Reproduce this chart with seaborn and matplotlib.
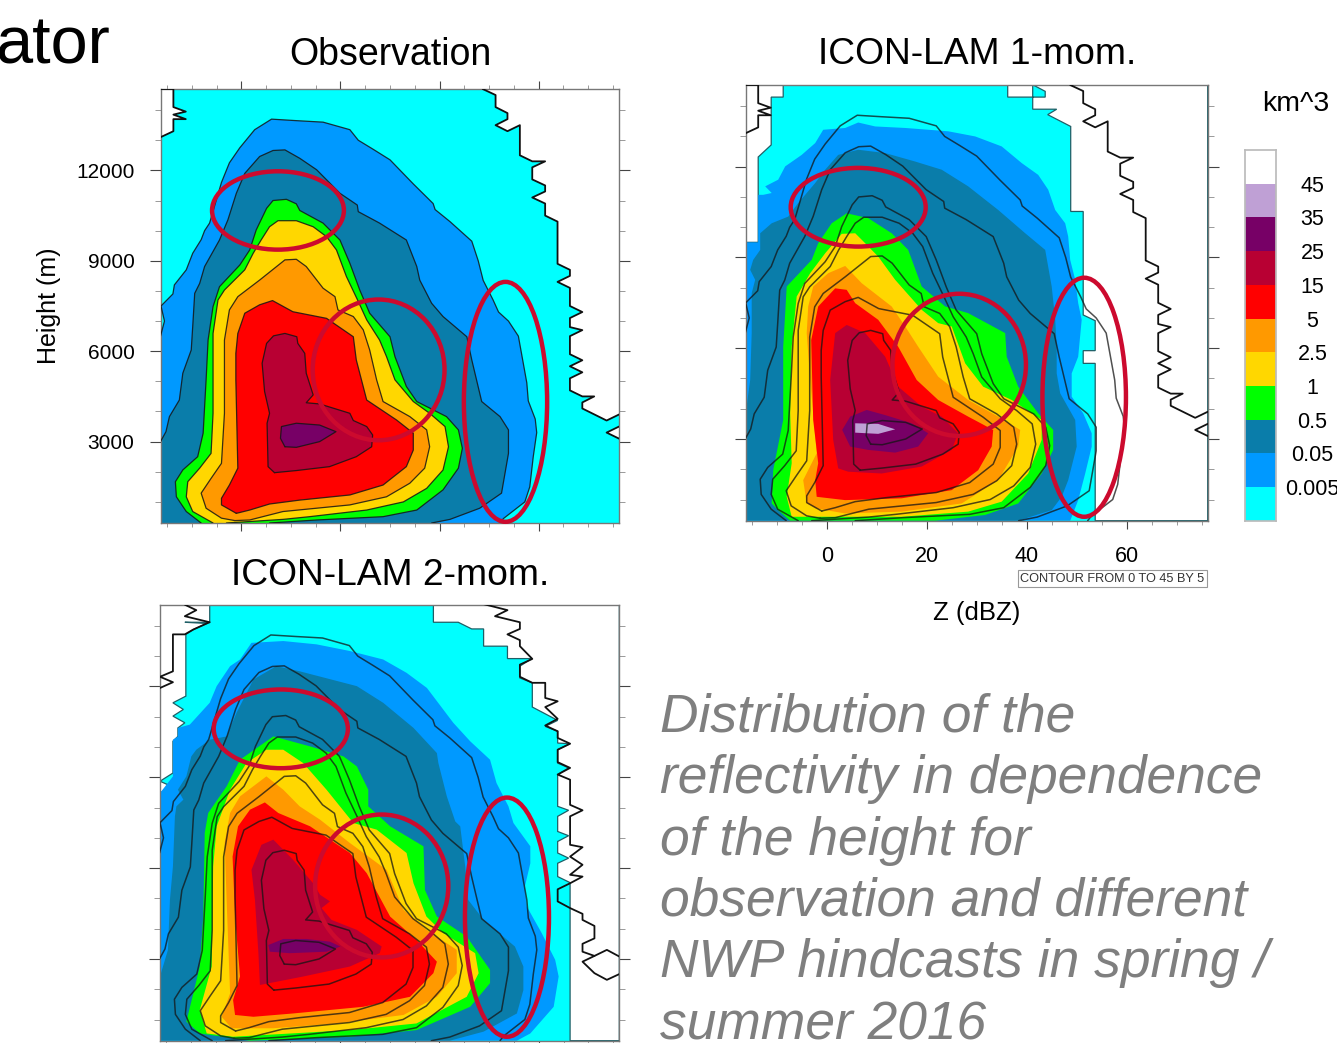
import numpy as np
import seaborn as sns
import matplotlib.pyplot as plt
from matplotlib.colors import ListedColormap
from matplotlib.patches import Ellipse
from matplotlib.ticker import MultipleLocator

W, H = 1337, 1043

cyan = '#00FFFF'
blue = '#0099FF'
dark = '#0A7DAA'
green = '#00FF00'
gold = '#FFD700'
orange = '#FF9900'
red = '#FF0000'
crimson = '#B80033'
purple = '#770066'
lilac = '#BFA0D5'
ring = '#CC0A2E'

bar_colors = ['#FFFFFF', lilac, purple, crimson, red, orange, gold, green, dark, blue, cyan]
bar_labels = ['45', '35', '25', '15', '5', '2.5', '1', '0.5', '0.05', '0.005']

text_lines = ['Distribution of the', 'reflectivity in dependence', 'of the height for',
              'observation and different', 'NWP hindcasts in spring /', 'summer 2016']

# observation contours, Z in dBZ, height in km
obs_blue_z = [-16.3,-15.5,-16.2,-13.8,-13.5,-11.1,-9.8,-8.1,-7.4,-6.4,-4.0,-2.4,-0.3,2.7,6.1,11.1,16.5,21.9,23.6,26.6,30.0,34.7,38.7,39.1,42.1,46.5,47.8,48.8,50.8,51.9,53.9,55.9,57.6,57.9,59.3,59.6,58.9,58.2,57.2,52.9,52.2,-16.3]
obs_blue_h = [6.5,7.0,7.5,7.9,8.2,8.7,9.25,9.7,10.0,10.25,11.6,12.25,12.75,13.35,13.7,13.65,13.6,13.35,13.0,12.7,12.35,11.55,10.9,10.7,10.3,9.65,9.0,8.35,7.7,7.3,7.0,6.5,4.95,4.35,3.75,3.3,2.5,1.5,1.0,0.45,0.3,0.3]
obs_dark_z = [-16.3,-15.2,-14.5,-12.5,-11.8,-10.1,-9.8,-9.4,-8.4,-7.4,-4.4,-2.7,-1,0.7,3.7,6.4,8.8,11.8,15.2,19.9,23.4,23.6,27.9,33.3,35.4,36,38.4,40.7,45.5,46.5,48.5,52.2,53.9,53.9,52.5,48.1,42.1,38.4,-16.3]
obs_dark_h = [3,3.33,3.83,4.38,5.27,6.04,6.82,7.92,8.25,8.81,9.69,10.36,11.24,11.9,12.46,12.66,12.68,12.4,12.02,11.24,10.85,10.63,10.25,9.69,8.81,8.36,7.59,7.15,6.48,5.71,4.33,3.83,3.39,2.61,1.29,0.79,0.42,0.3,0.3]
obs_green_z = [-8.1,-11.1,-13.1,-13.3,-11.8,-8.8,-7.7,-7.1,-6.7,-5.7,-4.4,-0.3,1.7,3,5.1,6.4,9.1,11.1,11.8,16.5,19.9,21.9,23.9,25.9,30,31,33.3,35.4,41.4,43.8,44.6,43.8,40.7,35.4,28.6,15.2,5.7]
obs_green_h = [0.3,0.68,1.17,1.67,2.06,2.5,3.28,5.05,6.37,7.48,8.14,8.86,9.36,10.02,10.74,11,11.04,10.89,10.67,10.25,9.69,8.92,8.03,7.26,6.48,5.82,4.83,4.33,3.83,3.39,2.78,2.12,1.4,0.73,0.51,0.4,0.3]
obs_gold_z = [-5.7,-9.8,-11.1,-10.8,-8.4,-6.1,-5.7,-5.7,-5.7,-4.7,-3.4,0.7,2.4,4,5.7,7.4,11.1,14.5,17.2,19.2,21.2,23.6,25.3,27.9,29.3,31,34.7,38,41.1,41.8,40.7,37.4,32.7,25.3,13.8,8.4,-3]
obs_gold_h = [0.3,0.68,1.17,1.67,2.12,2.61,3.94,5.27,6.59,7.7,8.03,8.7,9.25,9.69,10.13,10.33,10.33,10.13,9.8,9.36,8.48,7.65,7.04,6.37,5.82,5.05,4.33,3.94,3.5,2.83,2.06,1.45,1,0.73,0.51,0.42,0.3]
obs_orange_z = [-1.3,-4,-7.1,-8.1,-6.1,-4,-3.4,-3.4,-2.4,-0.7,3.7,8.8,11.1,13.1,16.5,18.9,19.5,22.6,24.6,25.9,27.3,28.6,34,37.4,38,37,34,29.3,21.9,8.4,1.7]
obs_orange_h = [0.38,0.46,0.79,1.29,1.78,2.28,3.94,6.37,7.37,7.81,8.36,9.03,9.05,8.81,8.09,7.81,7.37,7.15,6.71,6.04,5.05,4.33,3.83,3.39,2.83,2.12,1.62,1.17,0.9,0.68,0.4]
obs_red_z = [-1,-4,-4,-2.4,-0.7,-1.1,-1.1,-0.7,0.7,3.7,6.3,10.4,17.2,22.6,23.2,25.3,31.3,34.7,34.7,33.3,28.6,21.9,11.8,5.7,1.7]
obs_red_h = [0.62,0.9,1.12,1.56,2.12,5.05,5.93,6.59,7.26,7.54,7.68,7.31,7.09,6.48,5.71,4.38,3.72,3.28,2.72,2.17,1.56,1.23,1.06,0.93,0.73]
obs_crimson_z = [6.7,5.4,5.2,5.7,4.7,4.2,5.1,6.5,8.8,11.2,11.4,12.8,13.1,14.5,13.1,15.8,21.9,22.6,25.3,26.5,26.3,23.2,17.8,11.1]
obs_crimson_h = [1.97,2.17,3.61,3.94,4.66,5.6,6.26,6.51,6.59,6.48,6.26,5.93,5.27,4.55,4.29,4.25,3.94,3.7,3.5,3.22,2.83,2.5,2.17,2.04]
obs_purple_z = [8.8,7.9,8.1,11.1,15.8,19.1,15.8,11.1]
obs_purple_h = [2.83,3.11,3.5,3.61,3.55,3.33,3,2.81]

obs_white_left_z = [-16.3,-13.7,-13.7,-11.2,-13.7,-11.2,-13.7,-13.7,-16.3]
obs_white_left_h = [14.7,14.7,14.1,13.95,13.85,13.7,13.7,13.3,13.1]
obs_white_right_z = [48.7,51.3,51.3,53.7,53.7,51.3,53.7,56.2,56.2,58.7,61.3,58.7,58.7,61.3,61.3,58.7,61.3,61.3,63.8,63.8,66.3,66.3,63.8,66.3,66.3,68.8,66.3,66.3,68.8,66.3,66.3,68.8,66.3,68.8,66.3,66.3,68.8,71.2,68.8,68.8,73.7,76.2]
obs_white_right_h = [14.7,14.5,14.1,13.9,13.7,13.5,13.3,13.5,12.5,12.3,12.3,12.1,11.7,11.5,11.3,11.1,10.9,10.5,10.3,8.9,8.7,8.5,8.3,8.1,7.5,7.3,7.1,6.8,6.7,6.5,5.9,5.7,5.5,5.3,5.1,4.7,4.5,4.5,4.3,4.1,3.7,3.9]
obs_notch_z = [76.2,73.7,76.2]
obs_notch_h = [3.5,3.3,3.1]

# ICON-LAM 1-moment
one_blue_z = [-16.2,-13.7,-13.7,-12.7,-11,-12.3,-9.7,-8.3,-5,-2.3,-0.7,3.7,6.3,9.7,15.7,24.3,29.7,35,39,42.3,44.3,45.7,47.7,48.3,48.7,49.7,50.3,51,50.3,49,49,51.3,53,53,51.7,50.3,48.7,-16.2]
one_blue_h = [9.5,9.5,11.07,11.07,11.13,11.35,11.57,12.01,12.39,12.78,13.22,13.28,13.46,13.33,13.28,13.17,13,12.67,12.12,11.73,11.24,10.57,10.13,9.69,8.92,8.26,7.49,6.94,5.72,5.17,4.4,3.85,3.19,2.75,1.86,0.98,0.3,0.3]
one_dark_z = [-16.2,-15.3,-15,-15,-14.3,-15.3,-14.7,-13.3,-13.3,-11,-7.7,-5.7,-2.3,-0.3,2.3,6.3,11.7,17.7,23,28.3,34.3,39.7,43.7,45,45.7,46,46,46.7,49.7,50,48.3,47,45,38.3,-16.2]
one_dark_h = [3.85,4.95,6.5,7.82,8.26,8.59,8.92,9.25,9.8,10.13,10.35,10.8,11.46,11.9,12.39,12.56,12.45,12.17,11.9,11.35,10.57,9.8,9.25,8.04,6.94,6.05,5.17,4.51,3.63,2.75,1.64,1.09,0.65,0.3,0.3]
one_green_z = [-7.3,-9.7,-11,-10.7,-8.7,-8.7,-8.3,-8,-3,-1.7,1,4,8.3,13,16.3,19,23.7,28.3,35.7,36,38.3,42.3,45.3,45.3,43,38.3,31.7,21.7]
one_green_h = [0.3,0.65,0.87,1.97,3.63,6.05,7.16,8.04,8.92,9.47,10.13,10.46,10.3,9.8,9.25,8.04,7.38,7.16,6.5,5.72,4.73,3.85,3.3,2.64,1.86,0.87,0.49,0.3]
one_gold_z = [-7,-8,-7,-7.3,-7,-6,-3.3,-0.3,3,5.7,7.7,10.3,13.7,19,22.3,25,27.7,31.3,37,43,43,40.3,35,28.3,15]
one_gold_h = [0.43,1.09,2.2,3.85,6.05,7.71,8.48,9.14,9.78,9.8,9.47,9.03,8.26,7.27,6.83,6.72,5.5,4.73,4.29,3.63,2.97,1.86,0.93,0.6,0.43]
one_orange_z = [-4,-4.7,-2,-3.3,-4,-3.7,-2.7,0.3,3.7,7,13,15.7,18.3,22.3,28.3,34.3,38.7,38.3,34.3,27,15,3.7,-2.3]
one_orange_h = [0.87,1.64,2.53,4.95,6.5,7.38,8.04,8.48,8.72,8.15,7.38,6.72,6.05,5.06,4.29,3.74,3.3,2.75,1.64,0.87,0.6,0.54,0.71]
one_red_z = [-2,-2.3,-1.7,-2.7,-3.1,-1.7,1.7,4,5.7,10.3,14.3,18,22.3,28.3,33.3,33,30.3,25,15,3.7]
one_red_h = [1.09,1.64,2.2,3.63,6.27,7.38,7.98,7.93,7.49,6.94,6.05,4.95,4.29,3.74,3.3,2.75,1.97,1.31,1.04,0.98]
one_crimson_z = [2.3,1.3,0.7,1.7,4,7.7,11.7,14.3,19,23,26.3,25,19,11,4.3]
one_crimson_h = [2.03,2.97,4.95,6.5,6.77,6.5,5.72,4.73,4.07,3.74,3.19,2.64,2.09,1.86,1.92]
one_purple_z = [4.7,3.1,4.7,8,11.7,17,20.3,18.3,13.7,8.3]
one_purple_h = [2.75,3.3,3.74,3.96,3.79,3.52,3.19,2.75,2.55,2.64]
one_lilac_z = [5.7,10.3,13.7,10.3,5.7]
one_lilac_h = [3.52,3.5,3.32,3.17,3.21]
one_white_left_z = [-16.2,-8.7,-8.7,-11.1,-11.1,-13.7,-13.7,-16.2]
one_white_left_h = [14.7,14.7,14.3,14.3,12.72,12.32,9.5,9.5]
one_white_right_z = [36.2,36.2,41.2,43.7,43.7,41.3,76.2,76.2,53.7,53.7,51.3,51.3,53.7,53.7,51.3,51.3,48.8,48.8,44.2,46,41.2,41.2]
one_white_right_h = [14.7,14.3,14.3,14.3,14.49,14.7,14.7,0.3,0.3,5.5,5.5,5.92,5.92,6.91,7.1,10.52,10.52,13.33,13.72,13.9,13.9,14.7]

# ICON-LAM 2-moment
two_blue_z = [-16.2,-13.6,-13.6,-12.6,-12.6,-10.2,-6.2,-4.8,-2.1,-0.1,2.2,8.6,15.3,22,28.7,33.4,37.5,42.8,46.2,50.2,51.5,53.9,54.9,58.3,58.3,57.2,57.6,60.6,63.3,64,63,58.3,55.6,-16.2]
two_blue_h = [8.48,9.03,10.24,10.35,10.63,10.74,11.46,12.01,12.67,12.89,13.44,13.5,13.39,13.17,12.89,12.45,11.95,10.8,10.19,9.58,8.81,8.04,7.49,6.72,6.16,5.39,4.73,3.85,2.97,2.42,1.42,0.54,0.3,0.3]
two_dark_z = [-16.2,-14.6,-14.2,-13.6,-13.2,-12.9,-11.5,-12.6,-10.9,-9.9,-8.9,-6.2,-2.8,-0.8,2.6,7.2,11.9,23.4,28.7,34.8,39.5,39.8,41.5,43.2,44.2,45.2,45.8,48.9,55.2,56.9,56.9,55.6,48.9,42.1,-16.2]
two_dark_h = [2.42,3.3,4.95,6.05,7.71,8.04,8.26,8.59,9.03,9.69,9.91,10.24,10.35,11.13,12.23,12.67,12.5,12.01,11.46,10.63,9.8,9.47,8.37,7.54,7.38,6.05,4.95,4.29,3.41,2.75,1.97,1.2,0.6,0.3,0.3]
two_green_z = [-8.2,-10.9,-9.5,-8.2,-7.5,-7.2,-6.5,-2.8,-0.1,6.6,14,20.7,23.4,25.7,25.7,30.1,36.8,37.1,39.5,45.5,50.2,50.2,46.2,35.4,22,1.9]
two_green_h = [0.54,0.93,1.86,2.75,4.4,7.16,7.82,8.7,9.58,10.35,10.02,9.69,9.36,8.59,8.04,7.38,6.72,5.28,4.4,3.74,2.64,2.2,1.42,0.65,0.43,0.3]
two_gold_z = [-6.8,-8.2,-5.8,-5.5,-4.8,-2.1,1.2,5.2,8.6,12.6,17.3,22.7,27.4,33.4,34.8,37.4,40.8,47.2,47.9,45.5,35.4,22,-1.5]
two_gold_h = [0.54,1.31,2.75,6.05,7.38,8.59,9.47,9.91,9.91,9.47,8.59,7.49,7.27,6.5,5.5,4.4,3.85,3.19,2.53,1.75,0.87,0.65,0.43]
two_orange_z = [-1.8,-3.8,-2.1,-2.8,-3.2,-2.1,-0.1,5.2,8.6,11.9,16,22,29.4,32.8,37.4,43.5,43.5,39.5,32.8,19.3,6.6]
two_orange_h = [0.71,1.09,1.86,4.95,6.83,7.82,8.37,9.03,8.59,8.04,7.6,6.83,5.94,4.62,3.96,3.3,2.53,1.75,1.15,0.87,0.71]
two_red_z = [-1.1,-1.5,-0.1,-1.1,-1.6,-0.5,1.9,4.9,7.6,14,22,25.4,30.1,35.4,39.5,38.8,34.1,24.7,10.6,2.6]
two_red_h = [1.15,1.64,2.42,4.4,6.38,7.38,7.93,8.17,7.82,7.38,6.5,5.83,4.4,3.63,2.91,2.53,1.75,1.42,1.2,1.09]
two_crimson_z = [3.9,3.6,2.9,2.2,4.2,6.6,10.6,14.6,16,18,16.3,18.3,23.4,28.4,28,22,12.6]
two_crimson_h = [2.14,3.19,4.95,5.94,6.77,6.94,6.27,5.5,5.12,4.9,4.68,4.29,3.96,3.41,3.19,2.75,2.42]
two_purple_z = [5.9,5.6,8.6,13.3,18,20.1,17.3,9.9]
two_purple_h = [3.24,3.46,3.66,3.66,3.57,3.41,3.24,3.19]
two_white_left_z = [-16.2,-6.2,-6.2,-11.2,-6.8,-9.5,-11,-11,-13.6,-11.5,-13.6,-11.2,-12.6,-12.6,-13.6,-13.6,-16.2,-13.9,-16.2]
two_white_left_h = [14.7,14.7,14.12,14.12,14.08,13.88,13.72,11.68,11.46,11.24,11.02,10.8,10.63,10.35,10.19,9.14,8.87,8.7,8.48]
two_white_right_z = [38.8,38.8,43.8,46.5,48.9,48.9,53.7,53.7,58.6,56.2,56.2,58.7,58.7,63.8,61.3,63.8,63.8,66.3,63.8,63.8,66,63.8,63.8,66,63.8,63.8,66,63.8,63.8,66,63.8,63.8,66.3,66.3,76.2,76.2]
two_white_right_h = [14.7,14.12,14.12,13.9,13.9,13.33,13.33,12.92,12.92,12.67,12.28,12.12,11.32,10.88,10.68,10.52,10.13,10.11,9.91,9.47,9.31,9.09,8.04,7.91,7.71,7.21,7.07,6.88,6.5,6.33,6.16,5.72,5.52,0.3,0.3,14.7]
two_outline_z = [48.9,53.7,51.2,56.2,56.2,53.7,56.2,56.2,58.7,56.2,56.2,58.7,61.3,61.3,63.8,61.3,63.8,61.3,63.8,63.8,66.3,63.8,63.8,66.3,63.8,66.3,66.3,68.8,66.3,66.3,68.8,66.3,68.8,66.3,68.8,66.3,63.8,63.8,66.3,68.8,68.8,71.2,71.2,68.8,68.8,71.2,68.8,71.2,73.7,76.2]
two_outline_h = [14.72,14.52,14.32,14.12,13.9,13.72,13.53,13.33,12.91,12.72,12.32,12.12,12.12,11.62,11.51,11.32,10.93,10.71,10.52,10.3,10.11,9.91,9.5,9.31,9.09,8.92,8.09,7.91,7.71,6.77,6.69,6.38,6.11,5.78,5.72,5.5,5.3,4.9,4.68,4.49,4.29,4.09,3.68,3.5,3.24,3.1,2.91,2.53,2.31,2.5]
two_hex_z = [71.2,73.7,76.2]
two_hex_h = [3.1,3.3,3.08]
two_left_outline_z = [-11.2,-8.9,-11.2,-6.2,-6.8,-9.5,-11.2,-13.6,-13.6,-16.2,-13.6,-16.2]
two_left_outline_h = [14.7,14.52,14.32,14.12,14.08,13.88,13.72,13.72,12.5,12.32,12.14,11.95]

# ellipse centre Z, centre height, width, height
rings_obs = [(7.4, 10.67, 26.6, 2.6), (27.7, 5.38, 26.6, 4.67), (53.3, 4.32, 16.8, 7.96)]
rings_one = [(6.3, 10.66, 27.0, 2.6), (26.5, 5.45, 26.7, 4.7), (51.5, 4.38, 16.7, 7.9)]
rings_two = [(8.1, 10.6, 27.0, 2.6), (28.4, 5.41, 26.8, 4.72), (53.6, 4.38, 16.9, 7.9)]

obs_lines = [(obs_blue_z[:-1], obs_blue_h[:-1]), (obs_dark_z[:-1], obs_dark_h[:-1]), (obs_green_z, obs_green_h),
             (obs_gold_z, obs_gold_h), (obs_orange_z, obs_orange_h), (obs_red_z, obs_red_h),
             (obs_crimson_z, obs_crimson_h), (obs_purple_z, obs_purple_h)]
obs_outer = [(obs_white_left_z, obs_white_left_h), (obs_white_right_z, obs_white_right_h),
             (obs_notch_z, obs_notch_h)]


def km(values):
    return np.array(values) * 1000


def make_axes(fig, left, top, right, bottom):
    ax = fig.add_axes([left / W, 1 - bottom / H, (right - left) / W, (bottom - top) / H])
    ax.set_facecolor(cyan)
    return ax


def draw_fills(ax, whites, layers, white_edge='none'):
    for z, h in whites:
        ax.fill(z, km(h), fc='white', ec=white_edge, lw=0.9, zorder=1)
    for z, h, color in layers:
        ax.fill(z, km(h), color=color, lw=0, zorder=2)


def draw_lines(ax, lines, outer, lw=0.9, alpha=0.85):
    for z, h in lines:
        # contours that reach the bottom of the panel stay open
        if min(h) > 0.31:
            z, h = z + z[:1], h + h[:1]
        sns.lineplot(x=z, y=km(h), sort=False, estimator=None, color='#151515',
                     lw=lw, alpha=alpha, ax=ax, zorder=3)
    for z, h in outer:
        sns.lineplot(x=z, y=km(h), sort=False, estimator=None, color='#111111', lw=1.3, ax=ax, zorder=3)


def finish_axes(ax, rings, top_ticks=False):
    for z, h, w, t in rings:
        ax.add_patch(Ellipse((z, h * 1000), w, t * 1000, fill=False, ec=ring, lw=3.2, zorder=5, clip_on=False))
    ax.set_xlim(-16.2, 76.2)
    ax.set_ylim(300, 14700)
    ax.xaxis.set_major_locator(MultipleLocator(20))
    ax.xaxis.set_minor_locator(MultipleLocator(5))
    ax.yaxis.set_major_locator(MultipleLocator(3000))
    ax.yaxis.set_minor_locator(MultipleLocator(1000))
    ax.tick_params(axis='y', which='major', direction='out', length=8, width=0.8, color='#444444',
                   left=True, right=True, labelleft=False, labelsize=15, pad=11, labelcolor='black')
    ax.tick_params(axis='y', which='minor', direction='out', length=4, width=0.7, color='#999999',
                   left=True, right=True)
    ax.tick_params(axis='x', which='major', direction='out', length=6, width=0.8, color='#444444',
                   bottom=True, top=top_ticks, labelbottom=False, labelsize=15.5, pad=12.5, labelcolor='black')
    ax.tick_params(axis='x', which='minor', direction='out', length=3, width=0.7, color='#999999',
                   bottom=True, top=top_ticks)
    for spine in ax.spines.values():
        spine.set_visible(True)
        spine.set_color('#777777')
        spine.set_linewidth(1.0)


sns.set_theme(style='ticks')
plt.rcParams['font.family'] = ['Liberation Sans', 'DejaVu Sans']
plt.rcParams['text.color'] = 'black'
plt.rcParams['axes.labelcolor'] = 'black'

fig = plt.figure(figsize=(W / 100, H / 100), dpi=100)

ax_obs = make_axes(fig, 161, 89, 619, 523)
draw_fills(ax_obs, [(obs_white_left_z, obs_white_left_h), (obs_white_right_z + [76.2], obs_white_right_h + [14.7]),
                    (obs_notch_z, obs_notch_h)],
           [(obs_blue_z, obs_blue_h, blue), (obs_dark_z, obs_dark_h, dark), (obs_green_z, obs_green_h, green),
            (obs_gold_z, obs_gold_h, gold), (obs_orange_z, obs_orange_h, orange), (obs_red_z, obs_red_h, red),
            (obs_crimson_z, obs_crimson_h, crimson), (obs_purple_z, obs_purple_h, purple)])
draw_lines(ax_obs, obs_lines, obs_outer)
finish_axes(ax_obs, rings_obs, top_ticks=True)
ax_obs.tick_params(axis='y', which='major', labelleft=True)
ax_obs.set_ylabel('Height (m)', fontsize=18, labelpad=11)
ax_obs.set_xlabel('')
ax_obs.set_title('Observation', fontsize=27, pad=17, color='black')

ax_one = make_axes(fig, 745.7, 85, 1207.7, 520.7)
draw_fills(ax_one, [(one_white_left_z, one_white_left_h), (one_white_right_z, one_white_right_h)],
           [(one_blue_z, one_blue_h, blue), (one_dark_z, one_dark_h, dark), (one_green_z, one_green_h, green),
            (one_gold_z, one_gold_h, gold), (one_orange_z, one_orange_h, orange), (one_red_z, one_red_h, red),
            (one_crimson_z, one_crimson_h, crimson), (one_purple_z, one_purple_h, purple),
            (one_lilac_z, one_lilac_h, lilac)], white_edge='#1F5F66')
draw_lines(ax_one, obs_lines, obs_outer, lw=1.1, alpha=0.75)
finish_axes(ax_one, rings_one)
ax_one.tick_params(axis='x', which='major', labelbottom=True)
ax_one.set_ylabel('')
ax_one.set_xlabel('Z (dBZ)', fontsize=18.5, labelpad=24)
ax_one.set_title('ICON-LAM 1-mom.', fontsize=26.8, pad=15, color='black')

ax_two = make_axes(fig, 160, 604.7, 619.3, 1040.7)
draw_fills(ax_two, [(two_white_left_z, two_white_left_h), (two_white_right_z, two_white_right_h)],
           [(two_blue_z, two_blue_h, blue), (two_dark_z, two_dark_h, dark), (two_green_z, two_green_h, green),
            (two_gold_z, two_gold_h, gold), (two_orange_z, two_orange_h, orange), (two_red_z, two_red_h, red),
            (two_crimson_z, two_crimson_h, crimson), (two_purple_z, two_purple_h, purple)], white_edge='#1F5F66')
draw_lines(ax_two, obs_lines, [(two_left_outline_z, two_left_outline_h), (two_outline_z, two_outline_h),
                               (two_hex_z, two_hex_h)], lw=1.1, alpha=0.75)
finish_axes(ax_two, rings_two)
ax_two.set_ylabel('')
ax_two.set_title('ICON-LAM 2-mom.', fontsize=26.8, pad=14, color='black')

# colour bar, one cell per class
cax = fig.add_axes([1245 / W, 1 - 520.7 / H, 30.7 / W, 370.7 / H])
sns.heatmap(np.arange(len(bar_colors)).reshape(-1, 1), cmap=ListedColormap(bar_colors), cbar=False, ax=cax,
            xticklabels=False, yticklabels=False)
cax.set_yticks(np.arange(1, len(bar_colors)))
cax.set_yticklabels(bar_labels, rotation=0, ha='center', fontsize=15.5)
cax.tick_params(axis='y', length=0, pad=26.5, right=True, left=False, labelright=True, labelleft=False,
                labelcolor='black')
for spine in cax.spines.values():
    spine.set_visible(True)
    spine.set_color('#BBBBBB')

fig.text(1295.5 / W, 1 - 104 / H, 'km^3', ha='center', va='center', fontsize=20.5)
fig.text(110 / W, 1 - 63 / H, 'ator', ha='right', va='baseline', fontsize=48)
fig.text(1112.5 / W, 1 - 578.5 / H, 'CONTOUR FROM 0 TO 45 BY 5', ha='center', va='center', fontsize=9.2,
         color='#333333', bbox=dict(fc='white', ec='#999999', lw=0.8, boxstyle='square,pad=0.18'))

for i, line in enumerate(text_lines):
    fig.text(660 / W, 1 - (731.5 + 61.5 * i) / H, line, ha='left', va='baseline', fontsize=38.4,
             style='italic', color='#7F7F7F')

fig.savefig('out.png', dpi=100)
